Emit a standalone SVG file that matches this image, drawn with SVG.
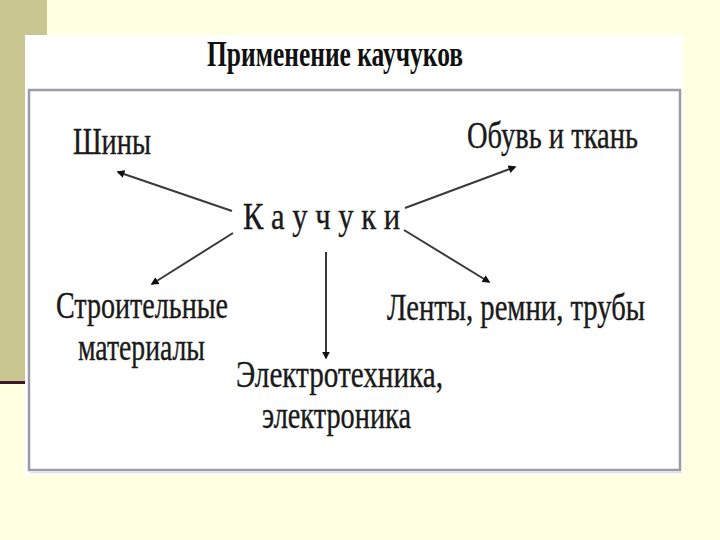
<svg xmlns="http://www.w3.org/2000/svg" width="720" height="540" viewBox="0 0 720 540">
  <defs>
    <style>
      .lbl { font-family: "Liberation Serif", "Times New Roman", serif; font-size: 38px; fill: #1a1a1a; stroke: #1a1a1a; stroke-width: 0.4; }
      .ttl { font-family: "Liberation Serif", "Times New Roman", serif; font-size: 36px; font-weight: bold; fill: #111; }
      .conn { stroke: #3a3a3a; stroke-width: 2; fill: none; marker-end: url(#ah); }
    </style>
    <marker id="ah" viewBox="0 0 10 10" refX="8" refY="5" markerWidth="4" markerHeight="4" orient="auto" markerUnits="strokeWidth">
      <path d="M0,0 L10,5 L0,10 Z" fill="#111"/>
    </marker>
  </defs>

  <!-- background -->
  <rect x="0" y="0" width="720" height="540" fill="#FFFFE1"/>
  <rect x="0" y="0" width="47" height="382" fill="#C9C692"/>
  <rect x="0" y="381" width="60" height="3" fill="#3B1B2B"/>

  <!-- white panel -->
  <rect x="25" y="35" width="658" height="440" fill="#FFFFFF"/>
  <rect x="29" y="90" width="651" height="380" fill="#FFFFFF" stroke="#9C9CA8" stroke-width="2.5"/>
  <line x1="30" y1="472.5" x2="682" y2="472.5" stroke="#E2E2E2" stroke-width="1.5"/>

  <!-- title -->
  <g id="title">
    <text class="ttl" x="207" y="66" textLength="256" lengthAdjust="spacingAndGlyphs">Применение каучуков</text>
  </g>

  <!-- connectors -->
  <g id="connectors">
    <line class="conn" x1="232" y1="211" x2="118" y2="172"/>
    <line class="conn" x1="405" y1="208" x2="515" y2="167"/>
    <line class="conn" x1="233" y1="233" x2="152" y2="284"/>
    <line class="conn" x1="404" y1="230" x2="489" y2="282"/>
    <line class="conn" x1="326" y1="252" x2="326" y2="358"/>
  </g>

  <!-- nodes -->
  <g id="node-center">
    <text class="lbl" x="243" y="229" textLength="157" lengthAdjust="spacingAndGlyphs">К а у ч у к и</text>
  </g>
  <g id="node-shiny">
    <text class="lbl" x="73" y="154" textLength="78" lengthAdjust="spacingAndGlyphs">Шины</text>
  </g>
  <g id="node-obuv">
    <text class="lbl" x="467" y="148" textLength="171" lengthAdjust="spacingAndGlyphs">Обувь и ткань</text>
  </g>
  <g id="node-stroit">
    <text class="lbl" x="56" y="318" textLength="172" lengthAdjust="spacingAndGlyphs">Строительные</text>
    <text class="lbl" x="78" y="360" textLength="127" lengthAdjust="spacingAndGlyphs">материалы</text>
  </g>
  <g id="node-lenty">
    <text class="lbl" x="387" y="320" textLength="258" lengthAdjust="spacingAndGlyphs">Ленты, ремни, трубы</text>
  </g>
  <g id="node-elektro">
    <text class="lbl" x="236" y="387" textLength="207" lengthAdjust="spacingAndGlyphs">Электротехника,</text>
    <text class="lbl" x="262" y="428" textLength="149" lengthAdjust="spacingAndGlyphs">электроника</text>
  </g>
</svg>
